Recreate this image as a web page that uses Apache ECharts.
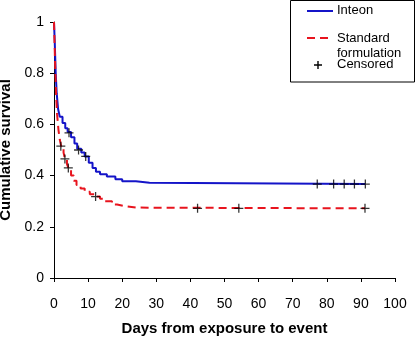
<!DOCTYPE html>
<html><head><meta charset="utf-8">
<script src="https://cdn.jsdelivr.net/npm/echarts@6/dist/echarts.min.js"></script>
<style>html,body{margin:0;padding:0;background:#fff}#c{width:416px;height:337px}</style>
</head><body><div id="c"></div>
<script>
// Kaplan-Meier curves (day of event, cumulative survival after event)
const inteonDays = [0, 0.2, 0.5, 0.8, 1.2, 1.7, 2.5, 3.3, 4.0, 5.0, 6.0, 6.8, 8.0, 9.0, 10.2, 11.3, 12.3, 13.5, 15.5, 18, 20, 24, 28, 91.3];
const inteonSurv = [1.0, 0.93, 0.80, 0.72, 0.66, 0.63, 0.605, 0.585, 0.57, 0.55, 0.525, 0.505, 0.49, 0.475, 0.45, 0.43, 0.415, 0.405, 0.396, 0.386, 0.378, 0.372, 0.367, 0.367];
const standardDays = [0, 0.3, 0.6, 0.9, 1.3, 1.7, 2.1, 2.8, 3.2, 3.8, 4.3, 5.0, 5.8, 6.6, 7.8, 9.0, 10.5, 12.0, 13.5, 15, 17, 18.5, 21, 24, 91.2];
const standardSurv = [1.0, 0.85, 0.72, 0.64, 0.58, 0.54, 0.515, 0.49, 0.465, 0.445, 0.428, 0.40, 0.38, 0.363, 0.35, 0.337, 0.327, 0.318, 0.31, 0.30, 0.287, 0.28, 0.275, 0.272, 0.272];
// Censored observations
const censoredDays = [4.4, 7.2, 9.3, 77.2, 82.0, 85.1, 88.1, 91.3, 2.0, 3.2, 4.2, 12.2, 42.1, 54.2, 91.2];
const censoredSurv = [0.567, 0.50, 0.475, 0.367, 0.367, 0.367, 0.367, 0.367, 0.515, 0.465, 0.43, 0.318, 0.272, 0.272, 0.272];
const xTicks = [0, 10, 20, 30, 40, 50, 60, 70, 80, 90, 100];
const yTicks = [0, 0.2, 0.4, 0.6, 0.8, 1];

const FONT = '"Liberation Sans", Arial, sans-serif';
const zip = (a, b) => a.map((v, i) => [v, b[i]]);
const plus = 'path://M4.3,0H5.7V4.3H10V5.7H5.7V10H4.3V5.7H0V4.3H4.3Z';
const plusPts = (cx, cy, r, t) => [[cx - t, cy - r], [cx + t, cy - r], [cx + t, cy - t], [cx + r, cy - t], [cx + r, cy + t], [cx + t, cy + t], [cx + t, cy + r], [cx - t, cy + r], [cx - t, cy + t], [cx - r, cy + t], [cx - r, cy - t], [cx - t, cy - t]];

const chart = echarts.init(document.getElementById('c'), null, {renderer: 'canvas'});
chart.setOption({
  animation: false,
  backgroundColor: '#fff',
  grid: {left: 54, right: 21, top: 22, bottom: 59, containLabel: false, outerBoundsMode: 'none'},
  xAxis: {
    type: 'value', min: xTicks[0], max: xTicks[xTicks.length - 1], interval: 10,
    name: 'Days from exposure to event', nameLocation: 'middle', nameGap: 43,
    nameTextStyle: {fontFamily: FONT, fontSize: 15, fontWeight: 'bold', color: '#000'},
    axisLine: {lineStyle: {color: '#000', width: 1}},
    axisTick: {show: true, length: 4, lineStyle: {color: '#000'}},
    axisLabel: {fontFamily: FONT, fontSize: 14, color: '#000', margin: 19},
    splitLine: {show: false}
  },
  yAxis: {
    type: 'value', min: yTicks[0], max: yTicks[yTicks.length - 1], interval: 0.2,
    name: 'Cumulative survival', nameLocation: 'middle', nameGap: 38, nameRotate: 90,
    nameTextStyle: {fontFamily: FONT, fontSize: 15, fontWeight: 'bold', color: '#000'},
    axisLine: {show: true, lineStyle: {color: '#000', width: 1}},
    axisTick: {show: true, length: 4, lineStyle: {color: '#000'}},
    axisLabel: {fontFamily: FONT, fontSize: 14, color: '#000', margin: 10,
      formatter: v => String(Math.round(v * 10) / 10)},
    splitLine: {show: false}
  },
  series: [
    {name: 'Inteon', type: 'line', step: 'end', showSymbol: false,
     data: zip(inteonDays, inteonSurv),
     lineStyle: {color: '#1414c8', width: 2}, z: 2},
    {name: 'Standard formulation', type: 'line', step: 'end', showSymbol: false,
     data: zip(standardDays, standardSurv),
     lineStyle: {color: '#e8141e', width: 2, type: [8, 5]}, z: 2},
    {name: 'Censored', type: 'scatter', symbol: plus, symbolSize: 9,
     data: zip(censoredDays, censoredSurv),
     itemStyle: {color: '#000'}, z: 3}
  ],
  graphic: [
    {type: 'rect', shape: {x: 290.5, y: 0.5, width: 124, height: 81.5},
     style: {fill: '#fff', stroke: '#000', lineWidth: 1}, z: 10},
    {type: 'line', shape: {x1: 307, y1: 11, x2: 333, y2: 11},
     style: {stroke: '#1414c8', lineWidth: 2}, z: 11},
    {type: 'text', x: 337, y: 4,
     style: {text: 'Inteon', font: '13px ' + FONT, fill: '#000'}, z: 11},
    {type: 'line', shape: {x1: 307, y1: 38, x2: 333, y2: 38},
     style: {stroke: '#e8141e', lineWidth: 2, lineDash: [8, 5]}, z: 11},
    {type: 'text', x: 337, y: 31,
     style: {text: 'Standard\nformulation', font: '13px ' + FONT, fill: '#000', lineHeight: 15}, z: 11},
    {type: 'polygon', shape: {points: plusPts(318, 65, 4, 0.7)},
     style: {fill: '#000'}, z: 11},
    {type: 'text', x: 337, y: 58,
     style: {text: 'Censored', font: '13px ' + FONT, fill: '#000'}, z: 11}
  ]
});
</script></body></html>
